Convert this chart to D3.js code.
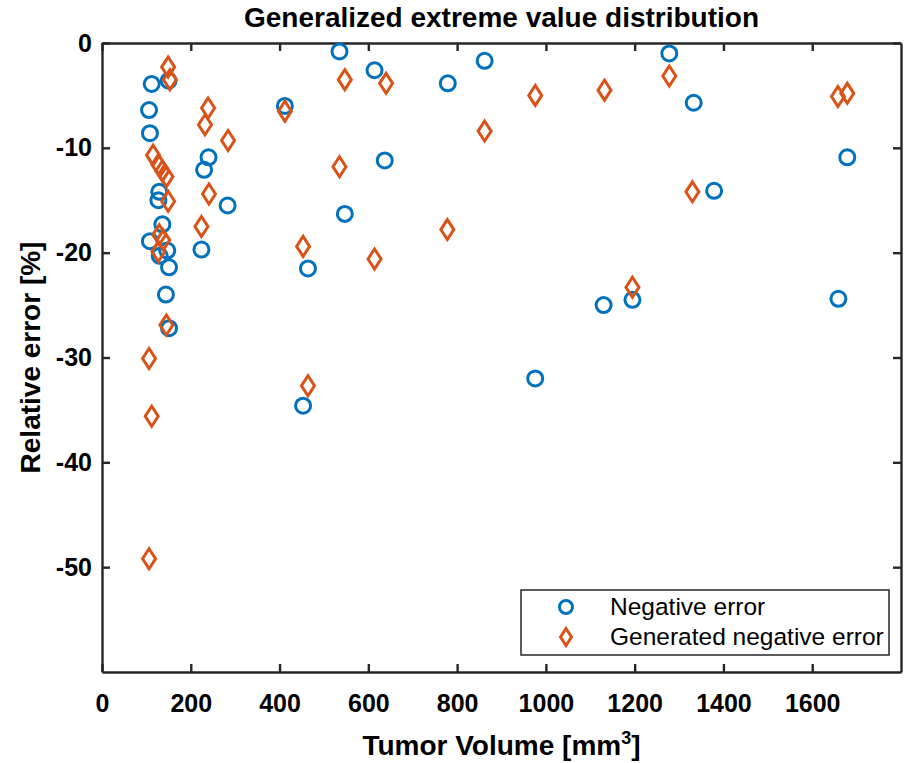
<!DOCTYPE html>
<html>
<head>
<meta charset="utf-8">
<script src="https://cdn.jsdelivr.net/npm/d3@7"></script>
<style>
  body { margin: 0; background: #fff; }
  text { font-family: "Liberation Sans", Arial, Helvetica, sans-serif; fill: #000; }
</style>
</head>
<body>
<svg></svg>
<script>
// negative error (blue circles)
const negVolume = [535, 614, 112, 106, 108, 412, 240, 230, 283, 129, 127, 136, 108, 147, 130, 151,
                   224, 144, 547, 464, 150, 637, 151, 453, 862, 779, 1278, 1130, 1195, 1333, 1379, 1679, 1659, 976]
const negError  = [-0.8, -2.6, -3.9, -6.4, -8.6, -6.0, -10.9, -12.1, -15.5, -14.2, -15.0, -17.3, -18.9, -19.8, -20.3, -21.4,
                   -19.7, -24.0, -16.3, -21.5, -3.6, -11.2, -27.2, -34.6, -1.7, -3.85, -1.0, -25.0, -24.5, -5.7, -14.1, -10.9, -24.4, -32.0]

// generated negative error (orange diamonds)
const genVolume = [149, 153, 239, 232, 284, 412, 115, 127, 136, 145, 241, 149, 224, 129, 138, 127, 145,
                   453, 106, 112, 464, 106, 535, 547, 640, 614, 976, 862, 1132, 1278, 778, 1195, 1330, 1658, 1679]
const genError  = [-2.3, -3.5, -6.2, -7.8, -9.3, -6.5, -10.7, -11.6, -12.2, -12.75, -14.4, -15.1, -17.5, -18.3, -18.8, -19.9, -26.9,
                   -19.4, -30.1, -35.6, -32.7, -49.2, -11.8, -3.5, -3.85, -20.6, -5.0, -8.4, -4.5, -3.15, -17.8, -23.3, -14.2, -5.1, -4.8]

const xTicks = [0, 200, 400, 600, 800, 1000, 1200, 1400, 1600]
const yTicks = [0, -10, -20, -30, -40, -50]

const
    svgWidth = 904,
    svgHeight = 763,
    plotLeft = 102, plotRight = 901, plotTop = 43, plotBottom = 672,
    blue = '#0072BD',
    orange = '#D95319',
    axisColor = '#262626';

let svg = d3.select('svg')
    .attr('width', svgWidth)
    .attr('height', svgHeight)

let x = d3.scaleLinear().domain([0, 1800]).range([plotLeft, plotRight])
let y = d3.scaleLinear().domain([-60, 0]).range([plotBottom, plotTop])

const fmt = d => String(d)

svg.append('g')
    .attr('transform', `translate(0,${plotBottom})`)
    .call(d3.axisBottom(x).tickValues(xTicks).tickFormat(fmt).tickSizeInner(-8).tickSizeOuter(0).tickPadding(22))
svg.append('g')
    .attr('transform', `translate(${plotLeft},0)`)
    .call(d3.axisLeft(y).tickValues(yTicks).tickFormat(fmt).tickSizeInner(-8).tickSizeOuter(0).tickPadding(10))
svg.append('g')
    .attr('transform', `translate(0,${plotTop})`)
    .call(d3.axisTop(x).tickValues(xTicks).tickFormat('').tickSizeInner(-8).tickSizeOuter(0))
svg.append('g')
    .attr('transform', `translate(${plotRight},0)`)
    .call(d3.axisRight(y).tickValues(yTicks).tickFormat('').tickSizeInner(-8).tickSizeOuter(0))

svg.selectAll('.domain').attr('stroke', axisColor).attr('stroke-width', 2.4)
svg.selectAll('.tick line').attr('stroke', axisColor).attr('stroke-width', 2.4)
svg.selectAll('.tick text')
    .style('font-size', '25px')
    .style('font-weight', 'bold')
    .attr('fill', axisColor)

const diamond = (w, h) => `M0,${-h}L${w},0L0,${h}L${-w},0Z`

// markers
svg.append('g').selectAll('circle')
    .data(negVolume.map((v, i) => [v, negError[i]]))
    .enter()
    .append('circle')
        .attr('cx', d => x(d[0]))
        .attr('cy', d => y(d[1]))
        .attr('r', 7.5)
        .attr('fill', 'none')
        .attr('stroke', blue)
        .attr('stroke-width', 3)

svg.append('g').selectAll('path')
    .data(genVolume.map((v, i) => [v, genError[i]]))
    .enter()
    .append('path')
        .attr('d', diamond(6.5, 10))
        .attr('transform', d => `translate(${x(d[0])},${y(d[1])})`)
        .attr('fill', 'none')
        .attr('stroke', orange)
        .attr('stroke-width', 3)

// title and axis labels
svg.append('text')
    .attr('x', (plotLeft + plotRight) / 2)
    .attr('y', 27)
    .attr('text-anchor', 'middle')
    .style('font-size', '28px')
    .style('font-weight', 'bold')
    .text('Generalized extreme value distribution')

let xl = svg.append('text')
    .attr('x', (plotLeft + plotRight) / 2)
    .attr('y', 755)
    .attr('text-anchor', 'middle')
    .style('font-size', '28px')
    .style('font-weight', 'bold')
    .attr('fill', axisColor)
xl.append('tspan').text('Tumor Volume [mm')
xl.append('tspan').attr('dy', -11).style('font-size', '18px').text('3')
xl.append('tspan').attr('dy', 11).text(']')

svg.append('text')
    .attr('transform', `translate(40,${(plotTop + plotBottom) / 2}) rotate(-90)`)
    .attr('text-anchor', 'middle')
    .style('font-size', '28px')
    .style('font-weight', 'bold')
    .attr('fill', axisColor)
    .text('Relative error [%]')

// legend
let lg = svg.append('g').attr('transform', 'translate(521,590)')
lg.append('rect')
    .attr('width', 368).attr('height', 65)
    .attr('fill', '#fff').attr('stroke', axisColor).attr('stroke-width', 1.5)
lg.append('circle')
    .attr('cx', 45).attr('cy', 17).attr('r', 6.5)
    .attr('fill', 'none').attr('stroke', blue).attr('stroke-width', 3)
lg.append('path')
    .attr('d', diamond(5.5, 8.5))
    .attr('transform', 'translate(45,47)')
    .attr('fill', 'none').attr('stroke', orange).attr('stroke-width', 3)
lg.append('text').attr('x', 89).attr('y', 25).style('font-size', '24.5px').text('Negative error')
lg.append('text').attr('x', 89).attr('y', 55).style('font-size', '24.5px').text('Generated negative error')
</script>
</body>
</html>
